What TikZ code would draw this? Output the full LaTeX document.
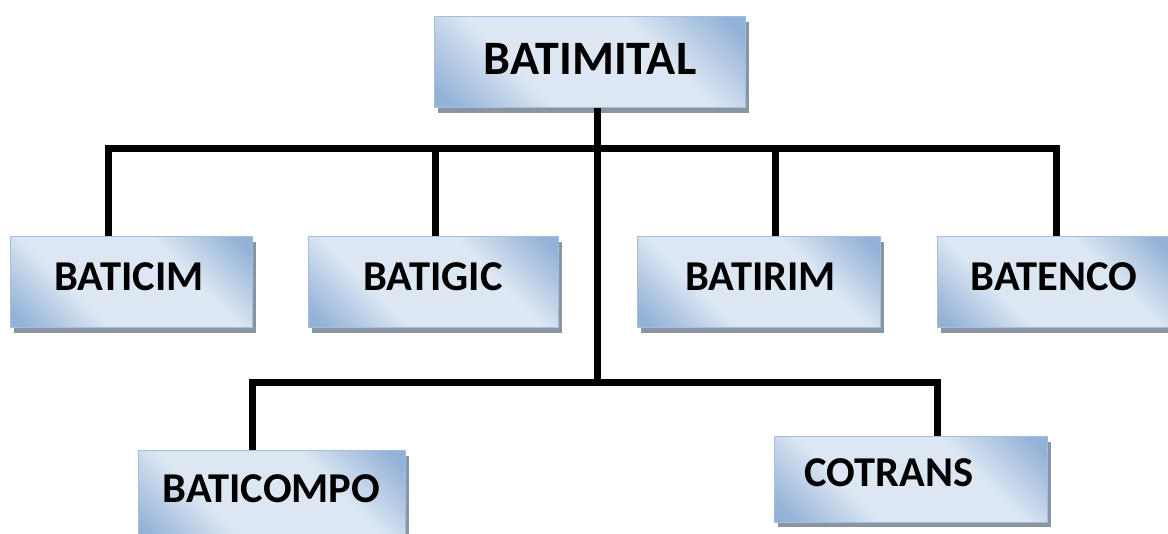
\documentclass[tikz,border=0pt]{standalone}
\usepackage{fontspec}
\setmainfont{Carlito}
\usetikzlibrary{shadows}
\definecolor{boxlight}{HTML}{DDE7F3}
\definecolor{boxdark}{HTML}{93B2D8}
\definecolor{boxline}{HTML}{A3BEE0}
\definecolor{shadowgray}{HTML}{8A95A1}
\pgfdeclareverticalshading{orgshade}{100bp}{color(0bp)=(boxdark); color(18bp)=(boxdark); color(36bp)=(boxlight); color(64bp)=(boxlight); color(82bp)=(boxdark); color(100bp)=(boxdark)}
\begin{document}
\begin{tikzpicture}[x=1pt,y=-1pt,
  orgbox/.style={draw=boxline, line width=1pt, shading=orgshade, shading angle=-45,
    minimum height=91pt, inner sep=0pt,
    drop shadow={shadow xshift=4pt, shadow yshift=-5pt, fill=shadowgray, opacity=1}},
  lbl/.style={anchor=base, inner sep=0pt, font=\bfseries\fontsize{42.5}{50}\selectfont},
  conn/.style={line width=7pt, line join=miter}]
\useasboundingbox (0,0) rectangle (1168,534);
% boxes
\node[orgbox, minimum width=311pt] (top) at (589.5,62.5) {};
\node[orgbox, minimum width=242pt] (cim) at (131,282.5) {};
\node[orgbox, minimum width=250pt] (gic) at (433,282.5) {};
\node[orgbox, minimum width=243pt] (rim) at (758.5,282.5) {};
\node[orgbox, minimum width=233pt] (enco) at (1053.5,282.5) {};
\node[orgbox, minimum width=267pt] (compo) at (271.5,496.5) {};
\node[orgbox, minimum width=273pt, minimum height=85pt] (cotrans) at (910.5,479.5) {};
% labels
\node[lbl, font=\bfseries\fontsize{48}{56}\selectfont] (ttop) at (590,75) {BATIMITAL};
\node[lbl] (tcim) at (129,291) {BATICIM};
\node[lbl] (tgic) at (433,291) {BATIGIC};
\node[lbl] (trim) at (760.5,291) {BATIRIM};
\node[lbl] (tenco) at (1054,291) {BATENCO};
\node[lbl] (tcompo) at (271.5,503) {BATICOMPO};
\node[lbl] (tcotrans) at (889,487) {COTRANS};
% connectors
\coordinate (hl) at (108,148.5);
\coordinate (hr) at (1056,148.5);
\coordinate (d2) at (435,148.5);
\coordinate (d3) at (775,148.5);
\coordinate (lm) at (597,382.5);
\coordinate (ll) at (252,382.5);
\coordinate (lr) at (937.5,382.5);
\draw[conn] (cim.north -| hl) -- (hl) -- (hr) -- (enco.north -| hr);
\draw[conn] (d2) -- (gic.north -| d2);
\draw[conn] (d3) -- (rim.north -| d3);
\draw[conn] (top.south -| lm) -- (lm);
\draw[conn] (compo.north -| ll) -- (ll) -- (lr) -- (cotrans.north -| lr);
\end{tikzpicture}
\end{document}
